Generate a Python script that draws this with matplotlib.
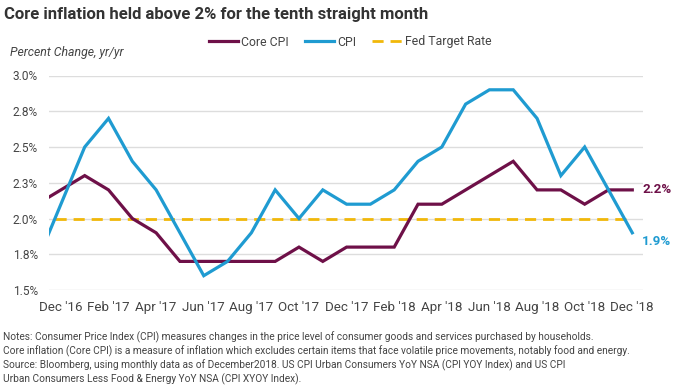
import matplotlib
matplotlib.use("Agg")
import matplotlib.pyplot as plt

plt.rcParams['font.family'] = ['Roboto', 'DejaVu Sans']

# Data (monthly, Nov 2016 .. Dec 2018; Nov 2016 lies just left of the visible range)
months = ["Nov '16", "Dec '16", "Jan '17", "Feb '17", "Mar '17", "Apr '17", "May '17",
          "Jun '17", "Jul '17", "Aug '17", "Sep '17", "Oct '17", "Nov '17", "Dec '17",
          "Jan '18", "Feb '18", "Mar '18", "Apr '18", "May '18", "Jun '18", "Jul '18",
          "Aug '18", "Sep '18", "Oct '18", "Nov '18", "Dec '18"]
core_cpi = [2.1, 2.2, 2.3, 2.2, 2.0, 1.9, 1.7, 1.7, 1.7, 1.7, 1.7, 1.8, 1.7, 1.8,
            1.8, 1.8, 2.1, 2.1, 2.2, 2.3, 2.4, 2.2, 2.2, 2.1, 2.2, 2.2]
cpi = [1.7, 2.1, 2.5, 2.7, 2.4, 2.2, 1.9, 1.6, 1.7, 1.9, 2.2, 2.0, 2.2, 2.1,
       2.1, 2.2, 2.4, 2.5, 2.8, 2.9, 2.9, 2.7, 2.3, 2.5, 2.2, 1.9]
fed_target = [2.0] * len(months)

y_ticks = [1.5, 1.75, 2.0, 2.25, 2.5, 2.75, 3.0]
y_tick_labels = ["1.5%", "1.8%", "2.0%", "2.3%", "2.5%", "2.8%", "3.0%"]
x_tick_labels = ["Dec '16", "Feb '17", "Apr '17", "Jun '17", "Aug '17", "Oct '17",
                 "Dec '17", "Feb '18", "Apr '18", "Jun '18", "Aug '18", "Oct '18", "Dec '18"]

title = "Core inflation held above 2% for the tenth straight month"
notes = ["Notes: Consumer Price Index (CPI) measures changes in the price level of consumer goods and services purchased by households.",
         "Core inflation (Core CPI) is a measure of inflation which excludes certain items that face volatile price movements, notably food and energy.",
         "Source: Bloomberg, using monthly data as of December2018. US CPI Urban Consumers YoY NSA (CPI YOY Index) and US CPI",
         "Urban Consumers Less Food & Energy YoY NSA (CPI XYOY Index)."]

CORE_C = "#6e1048"
CPI_C = "#1f9bd1"
FED_C = "#f1b80a"
GRID_C = "#dddddd"
TEXT_C = "#333333"

W, H = 675, 387
fig = plt.figure(figsize=(W / 100, H / 100), dpi=100)
ax = fig.add_axes([49 / W, 1 - 290 / H, (643 - 49) / W, (290 - 75.5) / H])

x = list(range(-1, len(months) - 1))
ax.plot(x, fed_target, color=FED_C, lw=2.0, dashes=(4, 2.5), label="Fed Target Rate", zorder=2)
ax.plot(x, core_cpi, color=CORE_C, lw=2.3, label="Core CPI", zorder=3, solid_joinstyle='miter')
ax.plot(x, cpi, color=CPI_C, lw=2.3, label="CPI", zorder=4, solid_joinstyle='miter')

ax.set_xlim(-0.5, 24.45)
ax.set_ylim(1.5, 3.0)
ax.set_yticks(y_ticks)
ax.set_yticklabels(y_tick_labels)
ax.set_xticks(range(0, 25, 2))
ax.set_xticklabels(x_tick_labels)
ax.grid(axis='y', color=GRID_C, lw=1.0, zorder=0)
ax.set_axisbelow(True)
for s in ax.spines.values():
    s.set_visible(False)
ax.tick_params(axis='both', length=0, colors="#444444")
ax.tick_params(axis='y', pad=8, labelsize=8.6)
ax.tick_params(axis='x', pad=8, labelsize=9.6)

# End labels
ax.annotate("2.2%", xy=(24, core_cpi[-1]), xytext=(7, 0), textcoords='offset points',
            color=CORE_C, fontsize=9.6, fontweight='bold', va='center', ha='left',
            annotation_clip=False)
ax.annotate("1.9%", xy=(24, cpi[-1]), xytext=(7, -6), textcoords='offset points',
            color=CPI_C, fontsize=9.6, fontweight='bold', va='center', ha='left',
            annotation_clip=False)

# Legend
handles, labels = ax.get_legend_handles_labels()
order = [1, 2, 0]
leg = fig.legend([handles[i] for i in order], [labels[i] for i in order],
                 loc='center', bbox_to_anchor=(350 / W, 1 - 42 / H), ncol=3,
                 frameon=False, fontsize=8.8, handlelength=2.4, handletextpad=0.25,
                 columnspacing=1.3, labelcolor="#444444")

fig.text(4 / W, 1 - 14 / H, title, fontsize=12.0, fontweight='semibold', color=TEXT_C,
         ha='left', va='center')
fig.text(10 / W, 1 - 52.5 / H, "Percent Change, yr/yr", fontsize=8.8, style='italic',
         color="#444444", ha='left', va='center')

for i, line in enumerate(notes):
    fig.text(3 / W, 1 - (337 + i * 14) / H, line, fontsize=7.3, color="#444444",
             ha='left', va='center')

fig.savefig("out.png", dpi=100)
